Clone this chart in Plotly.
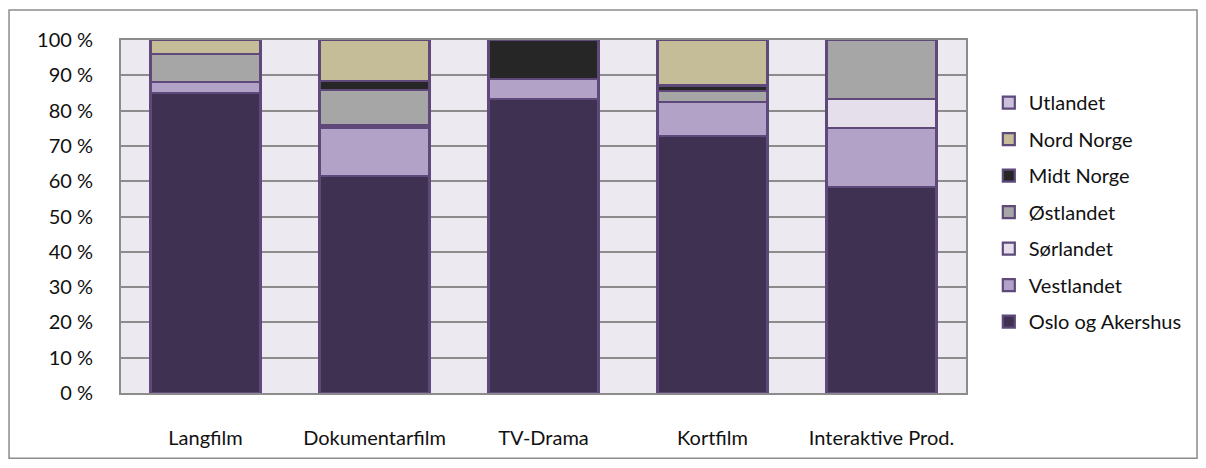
import plotly.graph_objects as go

categories = ["Langfilm", "Dokumentarfilm", "TV-Drama", "Kortfilm", "Interaktive Prod."]

oslo = [85.1, 61.5, 83.3, 72.8, 58.3]
vestlandet = [2.9, 13.5, 5.6, 9.6, 16.7]
sorlandet = [0.0, 0.8, 0.0, 0.0, 8.3]
ostlandet = [8.0, 10.0, 0.0, 3.1, 16.7]
midt_norge = [0.0, 2.5, 11.1, 1.6, 0.0]
nord_norge = [4.0, 11.7, 0.0, 12.9, 0.0]
utlandet = [0.0, 0.0, 0.0, 0.0, 0.0]

series = [
    ("Oslo og Akershus", oslo, "#3F3151"),
    ("Vestlandet", vestlandet, "#B3A2C7"),
    ("Sørlandet", sorlandet, "#E5DFEC"),
    ("Østlandet", ostlandet, "#A6A6A6"),
    ("Midt Norge", midt_norge, "#262626"),
    ("Nord Norge", nord_norge, "#C4BD97"),
    ("Utlandet", utlandet, "#CCC1DA"),
]

tick_vals = [0, 10, 20, 30, 40, 50, 60, 70, 80, 90, 100]
tick_text = [f"{v} %" for v in tick_vals]

FONT = "Lato, 'Open Sans', sans-serif"

fig = go.Figure()
n = len(series)
for i, (name, vals, col) in enumerate(series):
    fig.add_trace(go.Bar(
        name=name, x=categories, y=vals,
        marker=dict(color=col, line=dict(color="#5F497A", width=2.2)),
        legendgroup=name, legendrank=n - i,
    ))

fig.update_layout(
    width=1206, height=468,
    barmode="stack", bargap=0.35,
    paper_bgcolor="white", plot_bgcolor="#ECEAF0",
    margin=dict(l=121, r=240, t=40, b=75),
    font=dict(family=FONT, size=20, color="#111111"),
    legend=dict(
        x=1.027, y=0.878, xanchor="left", yanchor="top",
        traceorder="grouped", tracegroupgap=7.5,
        font=dict(family=FONT, size=20, color="#111111"),
        itemwidth=30, bgcolor="rgba(0,0,0,0)",
    ),
    showlegend=True,
)
fig.update_xaxes(
    showgrid=False, showline=True, linecolor="#8C8C8C", linewidth=2, mirror=True,
    ticks="", ticklabelstandoff=26,
)
fig.update_yaxes(
    range=[0, 100], tickvals=tick_vals, ticktext=tick_text,
    showgrid=True, gridcolor="#8C8C8C", gridwidth=1.5,
    showline=True, linecolor="#8C8C8C", linewidth=2, mirror=True,
    ticks="", ticklabelstandoff=22, zeroline=False,
)
fig.add_shape(type="rect", xref="paper", yref="paper",
              x0=-0.1325, x1=1.2734, y0=-0.185, y1=1.085,
              line=dict(color="#8C8C8C", width=1.5), fillcolor="rgba(0,0,0,0)", layer="below")

fig.write_html("out.html", config={"displayModeBar": False},
               post_script="document.body.style.margin='0';")
